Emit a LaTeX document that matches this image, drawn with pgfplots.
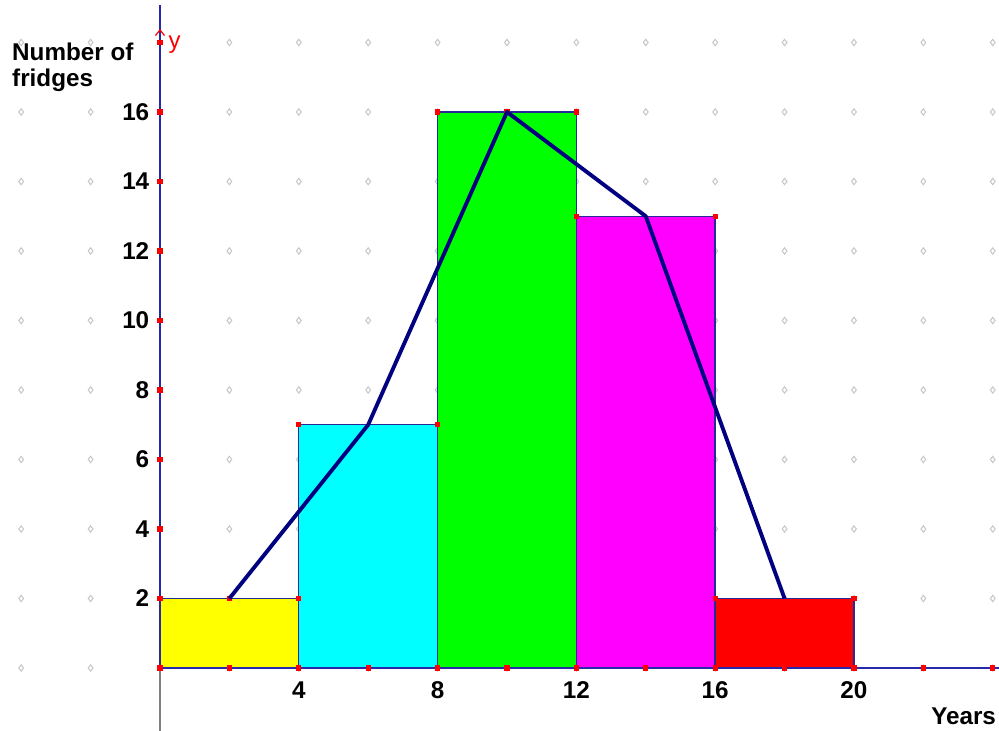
\documentclass[border=0pt]{standalone}
\usepackage{fontspec}
\setmainfont{Liberation Sans}
\usepackage{pgfplots}
\pgfplotsset{compat=1.18}
\definecolor{navyl}{RGB}{0,0,128}
\definecolor{edge}{RGB}{40,40,150}
\definecolor{axblue}{RGB}{40,40,170}
\definecolor{dotg}{RGB}{200,200,200}
\definecolor{byellow}{RGB}{255,255,0}
\definecolor{bcyan}{RGB}{0,255,255}
\definecolor{bgreen}{RGB}{0,255,0}
\definecolor{bmag}{RGB}{255,0,255}
\definecolor{bred}{RGB}{255,0,0}
\begin{document}
\begin{tikzpicture}
\begin{axis}[
  width=9.99cm, height=7.31cm, scale only axis,
  xmin=-4.611, xmax=24.18, ymin=-1.813, ymax=19.223,
  axis lines=none, clip=false, clip mode=individual,
  font=\fontsize{6.9}{8}\selectfont\bfseries,
]
% grid dots
\pgfplotsinvokeforeach{0,2,...,18}{
  \addplot[only marks, mark=diamond, mark size=0.9pt, color=dotg, line width=0.3pt]
    coordinates {(-4,#1)(-2,#1)(0,#1)(2,#1)(4,#1)(6,#1)(8,#1)(10,#1)(12,#1)(14,#1)(16,#1)(18,#1)(20,#1)(22,#1)(24,#1)};
}
% bars
\addplot[fill=byellow, draw=edge, line width=0.4pt] coordinates {(0,0)(0,2)(4,2)(4,0)} -- cycle;
\addplot[fill=bcyan, draw=edge, line width=0.4pt] coordinates {(4,0)(4,7)(8,7)(8,0)} -- cycle;
\addplot[fill=bgreen, draw=edge, line width=0.4pt] coordinates {(8,0)(8,16)(12,16)(12,0)} -- cycle;
\addplot[fill=bmag, draw=edge, line width=0.4pt] coordinates {(12,0)(12,13)(16,13)(16,0)} -- cycle;
\addplot[fill=bred, draw=edge, line width=0.4pt] coordinates {(16,0)(16,2)(20,2)(20,0)} -- cycle;
% axes
\addplot[gray, line width=0.35pt] coordinates {(0,-1.813)(0,0)};
\addplot[axblue, line width=0.4pt] coordinates {(0,0)(0,19.08)};
\addplot[axblue, line width=0.4pt] coordinates {(0,0)(24.18,0)};
% red points
\addplot[only marks, mark=square*, mark size=0.55pt, color=red]
  coordinates {(0,0)(0,2)(0,4)(0,6)(0,8)(0,10)(0,12)(0,14)(0,16)(0,18)
               (2,0)(4,0)(6,0)(8,0)(10,0)(12,0)(14,0)(16,0)(18,0)(20,0)(22,0)(24,0)
               (2,2)(4,2)(4,7)(8,7)(8,16)(10,16)(12,16)(12,13)(16,13)(16,2)(20,2)};
\addplot[red, line width=0.35pt] coordinates {(-0.13,18.2)(0,18.36)(0.13,18.2)};
% frequency polygon
\addplot[navyl, line width=1.1pt, line join=round] coordinates {(2,2)(6,7)(10,16)(14,13)(18,2)};
% tick labels
\pgfplotsinvokeforeach{2,4,...,16}{
  \node[anchor=east, inner sep=0pt] at (axis cs:-0.29,#1) {#1};
}
\pgfplotsinvokeforeach{4,8,...,20}{
  \node[anchor=center, inner sep=0pt] at (axis cs:#1,-0.63) {#1};
}
\node[anchor=west, inner sep=0pt] at (axis cs:-4.28,17.73) {Number of};
\node[anchor=west, inner sep=0pt] at (axis cs:-4.28,16.92) {fridges};
\node[anchor=center, inner sep=0pt, red, font=\fontsize{6.8}{8}\selectfont] at (axis cs:0.42,17.93) {y};
\node[anchor=center, inner sep=0pt] at (axis cs:23.16,-1.38) {Years};
\end{axis}
\pgfresetboundingbox
\path (current axis.south west) rectangle (current axis.north east);
\end{tikzpicture}
\end{document}
